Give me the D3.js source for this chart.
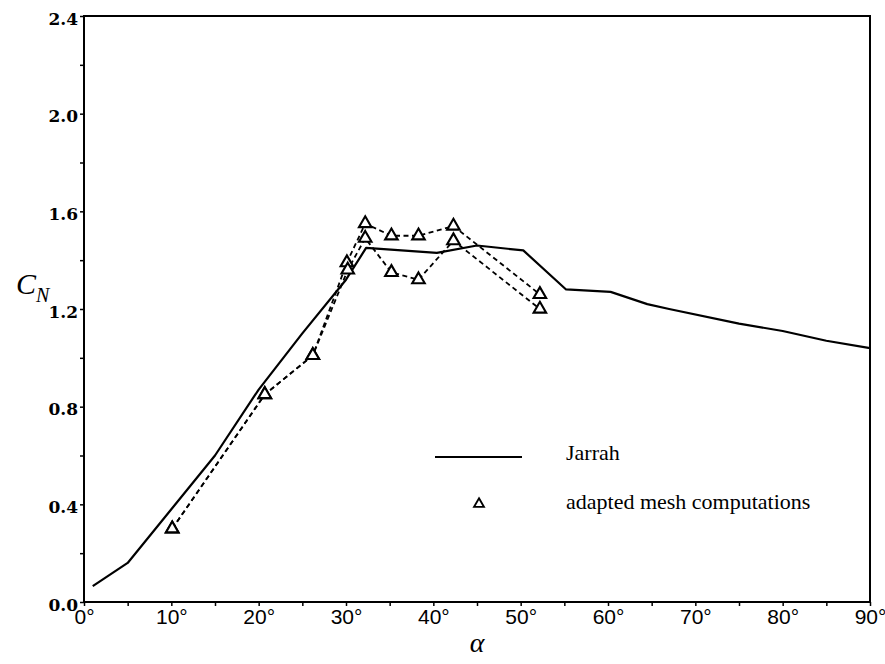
<!DOCTYPE html>
<html>
<head>
<meta charset="utf-8">
<script src="https://cdn.jsdelivr.net/npm/d3@7"></script>
<style>
  html, body { margin: 0; padding: 0; background: #fff; }
  svg { display: block; }
</style>
</head>
<body>
<svg id="chart" width="885" height="664"></svg>
<script>
// ---- data ----
const jarrahAlpha = [1, 5, 10, 15, 20, 25, 30, 32.3, 40.4, 45, 50.3, 55.2, 60.3, 64.5, 67, 75, 80, 85, 90];
const jarrahCN    = [0.065, 0.16, 0.38, 0.60, 0.87, 1.10, 1.32, 1.45, 1.43, 1.46, 1.44, 1.28, 1.27, 1.22, 1.20, 1.14, 1.11, 1.07, 1.04];

const meshAAlpha = [10.1, 20.7, 26.2, 30.1, 32.2, 35.2, 38.3, 42.3, 52.2];
const meshACN    = [0.30, 0.85, 1.01, 1.39, 1.55, 1.50, 1.50, 1.54, 1.26];
const meshBAlpha = [10.1, 20.7, 26.2, 30.2, 32.2, 35.2, 38.3, 42.3, 52.2];
const meshBCN    = [0.30, 0.85, 1.01, 1.36, 1.49, 1.35, 1.32, 1.48, 1.20];

const xTicks = [0, 10, 20, 30, 40, 50, 60, 70, 80, 90];
const xMinorTicks = [5, 15, 25, 35, 45, 55, 65, 75, 85];
const yTicks = [0.0, 0.4, 0.8, 1.2, 1.6, 2.0, 2.4];
const yMinorTicks = [0.2, 0.6, 1.0, 1.4, 1.8, 2.2];
const legendLabels = ["Jarrah", "adapted mesh computations"];

// ---- layout ----
const svg = d3.select("#chart");
const x = d3.scaleLinear().domain([0, 90]).range([84, 870]);
const y = d3.scaleLinear().domain([0, 2.4]).range([602, 16]);

// frame
svg.append("rect")
  .attr("x", x(0)).attr("y", y(2.4))
  .attr("width", x(90) - x(0)).attr("height", y(0) - y(2.4))
  .attr("fill", "none").attr("stroke", "#000").attr("stroke-width", 2);

// x axis
const xAxis = d3.axisBottom(x)
  .tickValues(xTicks)
  .tickSize(4)
  .tickPadding(4)
  .tickFormat(d => d + "°");
const gx = svg.append("g").attr("transform", `translate(0,${y(0)})`).call(xAxis);
gx.select(".domain").remove();
gx.selectAll(".tick line").attr("stroke", "#000").attr("stroke-width", 1.5);
gx.selectAll(".tick text")
  .attr("font-family", "'Liberation Sans Narrow', 'Liberation Sans', sans-serif")
  .attr("font-size", 21).attr("fill", "#000").attr("dy", "0.68em");
const gxm = svg.append("g").attr("transform", `translate(0,${y(0)})`)
  .call(d3.axisBottom(x).tickValues(xMinorTicks).tickSize(4).tickFormat(""));
gxm.select(".domain").remove();
gxm.selectAll(".tick line").attr("stroke", "#000").attr("stroke-width", 1.5);

// y axis
const yAxis = d3.axisLeft(y)
  .tickValues(yTicks)
  .tickSize(4)
  .tickPadding(2)
  .tickFormat(d3.format(".1f"));
const gy = svg.append("g").attr("transform", `translate(${x(0)},0)`).call(yAxis);
gy.select(".domain").remove();
gy.selectAll(".tick line").attr("stroke", "#000").attr("stroke-width", 1.5);
gy.selectAll(".tick text")
  .attr("font-family", "'DejaVu Serif', serif").attr("font-weight", "bold")
  .attr("font-size", 17).attr("fill", "#000").attr("dy", "8");
const gym = svg.append("g").attr("transform", `translate(${x(0)},0)`)
  .call(d3.axisLeft(y).tickValues(yMinorTicks).tickSize(4).tickFormat(""));
gym.select(".domain").remove();
gym.selectAll(".tick line").attr("stroke", "#000").attr("stroke-width", 1.5);

// axis titles
const yt = svg.append("text").attr("x", 16).attr("y", 294)
  .attr("font-family", "'Liberation Serif', serif").attr("font-style", "italic")
  .attr("font-size", 30).attr("fill", "#000");
yt.append("tspan").text("C");
yt.append("tspan").attr("font-size", 20).attr("dy", 8).text("N");

svg.append("text").attr("x", 477).attr("y", 652)
  .attr("text-anchor", "middle")
  .attr("font-family", "'Liberation Serif', serif").attr("font-style", "italic")
  .attr("font-size", 28).attr("fill", "#000").text("α");

// ---- series ----
const line = d3.line().x(d => x(d[0])).y(d => y(d[1]));
const jarrah = jarrahAlpha.map((a, i) => [a, jarrahCN[i]]);
const meshA = meshAAlpha.map((a, i) => [a, meshACN[i]]);
const meshB = meshBAlpha.map((a, i) => [a, meshBCN[i]]);

svg.append("path").datum(jarrah).attr("d", line)
  .attr("fill", "none").attr("stroke", "#000").attr("stroke-width", 2.2)
  .attr("stroke-linejoin", "round");

[meshA, meshB].forEach(s => {
  svg.append("path").datum(s).attr("d", line)
    .attr("fill", "none").attr("stroke", "#000").attr("stroke-width", 1.8)
    .attr("stroke-dasharray", "5,3.5");
});

const tri = d3.symbol().type(d3.symbolTriangle).size(68);
[meshA, meshB].forEach(s => {
  svg.append("g").selectAll("path").data(s).join("path")
    .attr("d", tri)
    .attr("transform", d => `translate(${x(d[0])},${y(d[1])})`)
    .attr("fill", "#fff").attr("stroke", "#000").attr("stroke-width", 2.1);
});

// ---- legend ----
svg.append("line").attr("x1", 435).attr("x2", 522).attr("y1", 457).attr("y2", 457)
  .attr("stroke", "#000").attr("stroke-width", 2);
svg.append("path").attr("d", d3.symbol().type(d3.symbolTriangle).size(42))
  .attr("transform", "translate(479,504)")
  .attr("fill", "#fff").attr("stroke", "#000").attr("stroke-width", 1.9);
svg.append("text").attr("x", 566).attr("y", 460)
  .attr("font-family", "'Liberation Serif', serif").attr("font-size", 22)
  .attr("fill", "#000").text(legendLabels[0]);
svg.append("text").attr("x", 566).attr("y", 509)
  .attr("font-family", "'Liberation Serif', serif").attr("font-size", 22)
  .attr("fill", "#000").text(legendLabels[1]);
</script>
</body>
</html>
